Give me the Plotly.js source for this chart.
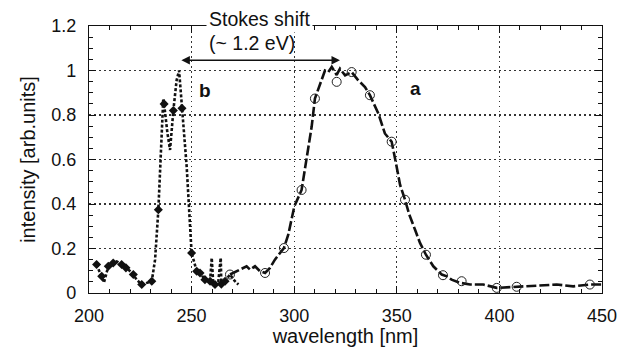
<!DOCTYPE html>
<html>
<head>
<meta charset="utf-8">
<script src="https://cdn.plot.ly/plotly-3.0.1.min.js"></script>
<style>html,body{margin:0;padding:0;background:#fff;}#chart{width:635px;height:347px;}</style>
</head>
<body>
<div id="chart"></div>
<script>
// Series b (excitation, dotted with diamonds)
var bX = [203.7,206.2,207.3,209.4,211.8,213.5,215.9,218,219.8,221.6,223.2,225.7,228.1,230.6,232.2,233.8,236.2,236.6,238.2,239.5,241.1,242.7,243.9,245.3,247.6,250,252.5,254.1,256.5,259,259.8,260.5,261.4,263,264.2,264.5,266.3,268.7,271.1,272.8];
var bY = [0.128,0.075,0.047,0.12,0.135,0.142,0.128,0.113,0.1,0.083,0.06,0.038,0.046,0.053,0.15,0.374,0.874,0.85,0.72,0.643,0.82,0.956,1.0,0.83,0.568,0.18,0.098,0.09,0.06,0.053,0.158,0.05,0.038,0.05,0.158,0.04,0.053,0.083,0.053,0.038];
var bMarkX = [203.7,206.2,209.4,211.8,215.9,218,221.6,225.7,230.6,233.8,236.6,241.1,245.3,250,252.5,254.1,256.5,259,261.4,264.5,266.3];
var bMarkY = [0.128,0.075,0.12,0.135,0.128,0.113,0.083,0.038,0.053,0.374,0.85,0.82,0.83,0.18,0.098,0.09,0.06,0.053,0.038,0.04,0.053];

// Series a (emission, dashed with open circles)
var aX = [268.7,276.8,278.5,280.9,283.3,285.8,288.2,290.6,293.1,295,297.1,300.05,303.6,305.3,308.5,310.1,312.6,315,316.6,318.3,320.7,322.3,324.8,328,331.2,334.5,336.9,341,344.2,347.5,349.6,351.6,354,356.1,358.9,361.3,364.2,367.8,371.9,374.4,376.7,380.8,385.7,392.2,398.7,408.4,416.5,427.9,436,444.1,449.8];
var aY = [0.083,0.12,0.105,0.12,0.098,0.09,0.113,0.15,0.18,0.202,0.262,0.389,0.463,0.568,0.747,0.874,0.934,1.0,0.993,1.016,0.98,1.008,0.978,0.993,0.956,0.926,0.889,0.807,0.717,0.68,0.583,0.486,0.419,0.352,0.284,0.225,0.172,0.12,0.083,0.075,0.06,0.046,0.038,0.038,0.023,0.028,0.034,0.038,0.03,0.038,0.038];
var aMarkX = [268.7,285.8,295,303.6,310.1,320.7,328,336.9,347.5,354,364.2,372.5,381.6,398.7,408.4,444.1];
var aMarkY = [0.083,0.09,0.202,0.463,0.874,0.949,0.993,0.889,0.68,0.419,0.172,0.08,0.053,0.023,0.028,0.038];

var xTicks = [200,250,300,350,400,450];
var yTicks = [0,0.2,0.4,0.6,0.8,1,1.2];

var F = '"Liberation Sans", Arial, sans-serif';

var traces = [
  {x:bX, y:bY, mode:'lines', line:{color:'#111', width:2.6, dash:'3px,2px'}, hoverinfo:'skip'},
  {x:bMarkX, y:bMarkY, mode:'markers', marker:{symbol:'diamond', size:7, color:'#111'}, hoverinfo:'skip'},
  {x:aX, y:aY, mode:'lines', line:{color:'#111', width:2.6, dash:'10px,3px'}, hoverinfo:'skip'},
  {x:aMarkX, y:aMarkY, mode:'markers', marker:{symbol:'circle-open', size:9, color:'#222', line:{width:1}}, hoverinfo:'skip'}
];

var axisCommon = {
  showline:true, linecolor:'#111', linewidth:1.2, mirror:'allticks',
  ticks:'inside', ticklen:7, tickwidth:1, tickcolor:'#111',
  showgrid:true, gridcolor:'#333', gridwidth:1.2, griddash:'1.5px,3.5px',
  zeroline:false, tickfont:{family:F, size:18, color:'#111'}
};

var layout = {
  width:635, height:347,
  margin:{l:89, r:33, t:25.5, b:53.5},
  paper_bgcolor:'#fff', plot_bgcolor:'#fff',
  showlegend:false,
  font:{family:F, color:'#111'},
  xaxis: Object.assign({}, axisCommon, {
    range:[200,450], tickvals:xTicks, ticklabelstandoff:6,
    minor:{dtick:10, ticks:'inside', ticklen:4, tickcolor:'#111', showgrid:false},
    title:{text:'wavelength [nm]', font:{family:F, size:20}, standoff:2}
  }),
  yaxis: Object.assign({}, axisCommon, {
    range:[0,1.2], tickvals:yTicks, ticklabelstandoff:8,
    minor:{dtick:0.05, ticks:'inside', ticklen:4, tickcolor:'#111', showgrid:false},
    title:{text:'intensity [arb.units]', font:{family:F, size:20}, standoff:10}
  }),
  annotations:[
    {x:322.3, y:1.046, ax:244.3, ay:1.046, axref:'x', ayref:'y', xref:'x', yref:'y',
     text:'', showarrow:true, arrowhead:2, arrowside:'end+start', arrowsize:1.3, arrowwidth:1.3, arrowcolor:'#111'},
    {x:0.333, y:1.026, xref:'paper', yref:'paper', xanchor:'center', yanchor:'middle', text:'Stokes shift', showarrow:false,
     font:{family:F, size:19.5, color:'#111'}, bgcolor:'#fff', borderpad:2},
    {x:0.318, y:0.935, xref:'paper', yref:'paper', xanchor:'center', yanchor:'middle', text:'(~ 1.2 eV)', showarrow:false,
     font:{family:F, size:19.5, color:'#111'}},
    {x:256.5, y:0.911, xref:'x', yref:'y', xanchor:'center', yanchor:'middle', text:'<b>b</b>', showarrow:false,
     font:{family:F, size:19, color:'#111'}},
    {x:358.9, y:0.92, xref:'x', yref:'y', xanchor:'center', yanchor:'middle', text:'<b>a</b>', showarrow:false,
     font:{family:F, size:19, color:'#111'}}
  ]
};

Plotly.newPlot('chart', traces, layout, {staticPlot:true, displayModeBar:false});
</script>
</body>
</html>
